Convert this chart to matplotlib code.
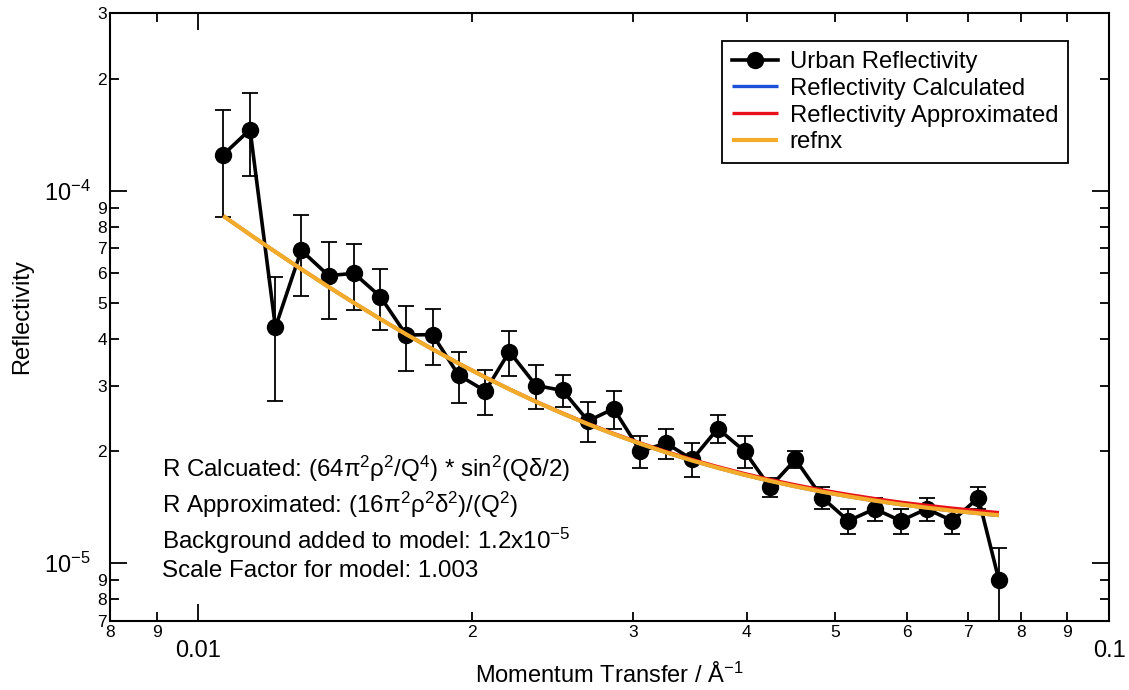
import matplotlib
matplotlib.use("Agg")
import matplotlib.pyplot as plt
from matplotlib.ticker import FixedLocator, FixedFormatter

# ---------------- data ----------------
q = [0.010654, 0.011399, 0.012154, 0.012974, 0.013902, 0.014830, 0.015844,
     0.016919, 0.018083, 0.019312, 0.020666, 0.021957, 0.023492, 0.025127,
     0.026794, 0.028584, 0.030581, 0.032641, 0.034866, 0.037194, 0.039792,
     0.042435, 0.045264, 0.048433, 0.051743, 0.055302, 0.059056, 0.063074,
     0.067309, 0.071868, 0.075716]

r_urban = [1.25e-4, 1.46e-4, 4.3e-5, 6.92e-5, 5.92e-5, 6.0e-5, 5.2e-5,
           4.1e-5, 4.11e-5, 3.2e-5, 2.9e-5, 3.7e-5, 3.0e-5, 2.91e-5,
           2.41e-5, 2.6e-5, 2.0e-5, 2.1e-5, 1.9e-5, 2.3e-5, 2.0e-5,
           1.6e-5, 1.9e-5, 1.5e-5, 1.3e-5, 1.4e-5, 1.3e-5, 1.4e-5,
           1.3e-5, 1.5e-5, 9.0e-6]

r_err = [4.0e-5, 3.66e-5, 1.58e-5, 1.7e-5, 1.38e-5, 1.2e-5, 0.98e-5,
         0.81e-5, 0.70e-5, 0.50e-5, 0.40e-5, 0.51e-5, 0.40e-5, 0.29e-5,
         0.30e-5, 0.30e-5, 0.20e-5, 0.20e-5, 0.20e-5, 0.20e-5, 0.20e-5,
         0.095e-5, 0.10e-5, 0.10e-5, 0.10e-5, 0.10e-5, 0.10e-5, 0.10e-5,
         0.10e-5, 0.10e-5, 0.20e-5]

r_calculated = [8.556e-5, 7.625e-5, 6.852e-5, 6.160e-5, 5.519e-5, 4.995e-5,
                4.524e-5, 4.115e-5, 3.752e-5, 3.437e-5, 3.153e-5, 2.930e-5,
                2.711e-5, 2.521e-5, 2.361e-5, 2.220e-5, 2.091e-5, 1.982e-5,
                1.885e-5, 1.802e-5, 1.725e-5, 1.662e-5, 1.606e-5, 1.554e-5,
                1.510e-5, 1.471e-5, 1.437e-5, 1.408e-5, 1.382e-5, 1.360e-5,
                1.344e-5]

r_approximated = [8.556e-5, 7.627e-5, 6.854e-5, 6.162e-5, 5.522e-5, 4.999e-5,
                  4.529e-5, 4.121e-5, 3.758e-5, 3.443e-5, 3.160e-5, 2.937e-5,
                  2.719e-5, 2.530e-5, 2.371e-5, 2.231e-5, 2.103e-5, 1.995e-5,
                  1.899e-5, 1.817e-5, 1.741e-5, 1.679e-5, 1.624e-5, 1.573e-5,
                  1.530e-5, 1.492e-5, 1.459e-5, 1.431e-5, 1.406e-5, 1.384e-5,
                  1.368e-5]

r_refnx = [8.556e-5, 7.626e-5, 6.853e-5, 6.161e-5, 5.520e-5, 4.997e-5,
           4.526e-5, 4.117e-5, 3.754e-5, 3.439e-5, 3.155e-5, 2.932e-5,
           2.713e-5, 2.523e-5, 2.363e-5, 2.222e-5, 2.093e-5, 1.984e-5,
           1.887e-5, 1.804e-5, 1.727e-5, 1.664e-5, 1.608e-5, 1.556e-5,
           1.512e-5, 1.473e-5, 1.439e-5, 1.410e-5, 1.384e-5, 1.362e-5,
           1.346e-5]

x_major = [0.01, 0.1]
x_major_labels = ["0.01", "0.1"]
x_minor = [0.008, 0.009, 0.02, 0.03, 0.04, 0.05, 0.06, 0.07, 0.08, 0.09]
x_minor_labels = ["8", "9", "2", "3", "4", "5", "6", "7", "8", "9"]

y_major = [1e-5, 1e-4]
y_major_labels = [r"$10^{-5}$", r"$10^{-4}$"]
y_minor = [7e-6, 8e-6, 9e-6, 2e-5, 3e-5, 4e-5, 5e-5, 6e-5, 7e-5, 8e-5,
           9e-5, 2e-4, 3e-4]
y_minor_labels = ["7", "8", "9", "2", "3", "4", "5", "6", "7", "8", "9",
                  "2", "3"]

legend_labels = ["Urban Reflectivity", "Reflectivity Calculated",
                 "Reflectivity Approximated", "refnx"]

notes = [r"R Calcuated: (64π$^2$ρ$^2$/Q$^4$) * sin$^2$(Qδ/2)",
         r"R Approximated: (16π$^2$ρ$^2$δ$^2$)/(Q$^2$)",
         r"Background added to model: 1.2x10$^{-5}$",
         "Scale Factor for model: 1.003"]

# ---------------- style ----------------
plt.rcParams["font.family"] = ["Liberation Sans", "DejaVu Sans"]
plt.rcParams["mathtext.fontset"] = "custom"
plt.rcParams["mathtext.rm"] = "Liberation Sans"
plt.rcParams["mathtext.it"] = "Liberation Sans:italic"
plt.rcParams["mathtext.bf"] = "Liberation Sans:bold"
plt.rcParams["axes.unicode_minus"] = False

fig = plt.figure(figsize=(11.29, 6.90), dpi=100)
ax = fig.add_axes([110 / 1129, 69 / 690, 999 / 1129, 608 / 690])

ax.set_xscale("log")
ax.set_yscale("log")
ax.set_xlim(0.008, 0.1)
ax.set_ylim(7e-6, 3e-4)

# data with error bars
ax.errorbar(q, r_urban, yerr=r_err, fmt="none", ecolor="black",
            elinewidth=1.3, capsize=6, capthick=1.3, zorder=2)
ax.plot(q, r_urban, "-o", color="black", lw=2.6, ms=11.5,
        label=legend_labels[0], zorder=3)

# models
ax.plot(q, r_calculated, color="#1a4fd6", lw=2.4, label=legend_labels[1],
        zorder=4, solid_capstyle="butt")
ax.plot(q, r_approximated, color="#e8101a", lw=2.4, label=legend_labels[2],
        zorder=5, solid_capstyle="butt")
ax.plot(q, r_refnx, color="#f2ac2a", lw=3.0, label=legend_labels[3],
        zorder=6, solid_capstyle="butt")

# ticks
ax.xaxis.set_major_locator(FixedLocator(x_major))
ax.xaxis.set_major_formatter(FixedFormatter(x_major_labels))
ax.xaxis.set_minor_locator(FixedLocator(x_minor))
ax.xaxis.set_minor_formatter(FixedFormatter(x_minor_labels))
ax.yaxis.set_major_locator(FixedLocator(y_major))
ax.yaxis.set_major_formatter(FixedFormatter(y_major_labels))
ax.yaxis.set_minor_locator(FixedLocator(y_minor))
ax.yaxis.set_minor_formatter(FixedFormatter(y_minor_labels))

ax.tick_params(which="both", direction="in", top=True, right=True,
               labeltop=False, labelright=False, color="black", width=1.3)
ax.tick_params(which="major", length=12)
ax.tick_params(which="minor", length=6.5)
ax.tick_params(axis="x", which="major", labelsize=17, pad=14)
ax.tick_params(axis="x", which="minor", labelsize=12.5, pad=3)
ax.tick_params(axis="y", which="major", labelsize=17, pad=14)
ax.tick_params(axis="y", which="minor", labelsize=12.5, pad=2)

for s in ax.spines.values():
    s.set_linewidth(1.5)

ax.set_xlabel(r"Momentum Transfer / Å$^{-1}$", fontsize=17)
ax.set_ylabel("Reflectivity", fontsize=17)
ax.xaxis.set_label_coords(0.5, -0.068)
ax.yaxis.set_label_coords(-0.077, 0.5)

# legend
leg = ax.legend(loc="upper right", bbox_to_anchor=(0.9593, 0.954),
                borderaxespad=0, fontsize=17.2, frameon=True, fancybox=False,
                framealpha=1, edgecolor="black", handlelength=1.9,
                handletextpad=0.5, labelspacing=0.2, borderpad=0.42)
leg.get_frame().set_linewidth(1.3)

# annotations
note_y = [0.2374, 0.1776, 0.1184, 0.0729]
for txt, yy in zip(notes, note_y):
    ax.text(0.0518, yy, txt, transform=ax.transAxes, fontsize=17.4,
            va="baseline", ha="left")

fig.savefig("out.png", dpi=100)
